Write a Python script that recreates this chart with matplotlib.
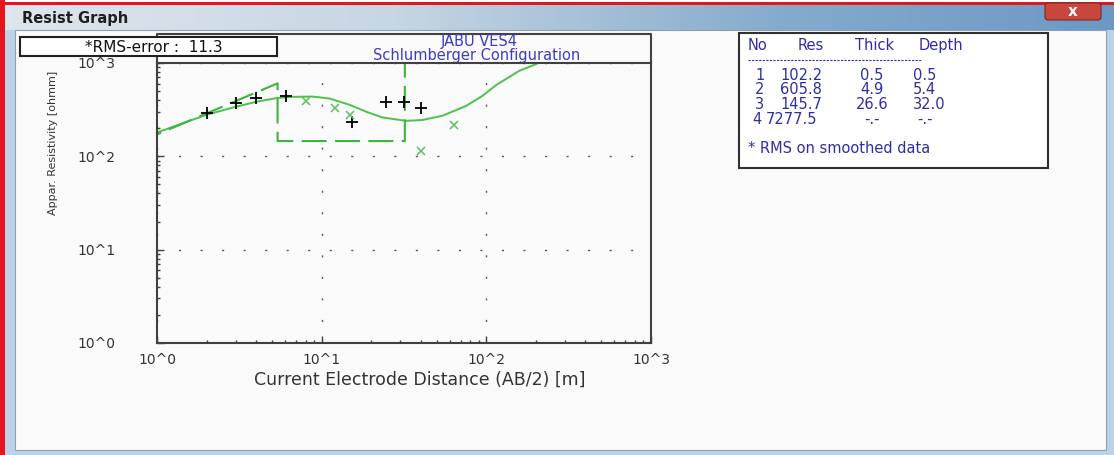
import numpy as np
import matplotlib
matplotlib.use('Agg')
import matplotlib.pyplot as plt
from matplotlib.patches import Rectangle, FancyBboxPatch
from matplotlib.ticker import LogLocator, NullFormatter

plt.rcParams['font.family'] = ['DejaVu Sans']

# field data (AB/2 [m], apparent resistivity [ohmm])
obs_ab2 = [2.0, 3.0, 4.0, 6.05, 15.3, 24.7, 31.8, 40.2]
obs_rho = [288, 371, 423, 448, 233, 383, 383, 331]

# smoothed data
smo_ab2 = [8.0, 12.0, 14.8, 40.0, 64.0]
smo_rho = [396, 331, 274, 115, 214]

# calculated model response
calc_ab2 = [1.0, 2.0, 3.0, 4.0, 5.3, 6.7, 8.8, 11.2, 14.8, 18.7, 23.4, 32.6,
            40.9, 54.1, 75.4, 94.6, 115, 158, 201, 215]
calc_rho = [180, 279, 339, 384, 420, 434, 437, 416, 356, 300, 261, 240,
            245, 272, 347, 444, 582, 822, 975, 1040]

# layer model
layer_no = [1, 2, 3, 4]
layer_res = [102.2, 605.8, 145.7, 7277.5]
layer_thick = [0.5, 4.9, 26.6]
layer_depth = [0.5, 5.4, 32.0]
rms_error = 11.3

dec = [1, 10, 100, 1000]
dec_labels = ['10^0', '10^1', '10^2', '10^3']

W, H = 1114, 455
fig = plt.figure(figsize=(W / 100, H / 100), dpi=100)

# window decoration, drawn in pixel coords
bg = fig.add_axes([0, 0, 1, 1])
bg.axis('off')
bg.add_patch(Rectangle((0, 0), W, H, fc='#bcd2e6', ec='none', zorder=0))
bg.add_patch(Rectangle((0, 0), W, 2, fc='white', ec='none', zorder=1))
bg.add_patch(Rectangle((0, 2), W, 3, fc='#e5151c', ec='none', zorder=2))
bg.add_patch(Rectangle((0, 0), 5, H, fc='#e5151c', ec='none', zorder=2))

stops = np.array([0, 0.35, 0.7, 1.0])
cols = np.array([[0.87, 0.90, 0.93], [0.78, 0.84, 0.89], [0.52, 0.67, 0.80], [0.42, 0.60, 0.77]])
t = np.linspace(0, 1, 400)
grad = np.stack([np.interp(t, stops, cols[:, k]) for k in range(3)], axis=-1)[None, :, :]
bg.imshow(grad, extent=(5, W, 30, 5), aspect='auto', zorder=1.5)
bg.text(22, 18, 'Resist Graph', fontsize=10.5, fontweight='bold', color='#1e1e1e',
        va='center', ha='left', zorder=3)
bg.add_patch(FancyBboxPatch((1045, 3), 56, 17, boxstyle='round,pad=0,rounding_size=3',
                            fc='#c8463c', ec='#7a2a25', lw=0.8, zorder=3))
bg.text(1073, 11.5, 'x', fontsize=11, fontweight='bold', color='white',
        ha='center', va='center', zorder=4)

bg.add_patch(Rectangle((15, 30), W - 23, H - 35, fc='#fafafa', ec='#8aa0b5', lw=0.8, zorder=2))

# frame above the plot (title area)
bg.plot([157, 157, 651, 651], [63, 34, 34, 63], color='#404040', lw=1.5, zorder=3)
title_col = '#3c3cc4'
bg.text(479, 46, 'JABU VES4', fontsize=10.5, color=title_col, ha='center', va='baseline', zorder=5)
bg.text(477, 60, 'Schlumberger Configuration', fontsize=10.5, color=title_col,
        ha='center', va='baseline', zorder=5)

# layer table
tcol = '#2d2da8'
fs_t = 10.5
bg.add_patch(Rectangle((739, 33), 309, 135, fc='white', ec='#303030', lw=1.5, zorder=3))
for x0, s in zip([748, 798, 855, 919], ['No', 'Res', 'Thick', 'Depth']):
    bg.text(x0, 50, s, fontsize=fs_t, color=tcol, ha='left', va='baseline', zorder=5)
bg.plot([748, 922], [60, 60], color=tcol, lw=0.8, ls=(0, (2, 1.2)), zorder=5)
row_base = [80, 94.5, 109, 124]
for i in range(len(layer_no)):
    yb = row_base[i]
    res_s = '%.1f' % layer_res[i]
    bg.text(755 if len(res_s) < 6 else 752, yb, str(layer_no[i]), fontsize=fs_t, color=tcol,
            ha='left', va='baseline', zorder=5)
    bg.text(780 if len(res_s) < 6 else 766, yb, res_s, fontsize=fs_t, color=tcol,
            ha='left', va='baseline', zorder=5)
    th = '%.1f' % layer_thick[i] if i < len(layer_thick) else '-.-'
    dp = '%.1f' % layer_depth[i] if i < len(layer_depth) else '-.-'
    bg.text(872, yb, th, fontsize=fs_t, color=tcol, ha='center', va='baseline', zorder=5)
    bg.text(913 if i < len(layer_depth) else 917, yb, dp, fontsize=fs_t, color=tcol,
            ha='left', va='baseline', zorder=5)
bg.text(748, 153, '* RMS on smoothed data', fontsize=fs_t, color=tcol, ha='left', va='baseline', zorder=5)

bg.set_xlim(0, W)
bg.set_ylim(H, 0)

# main log-log plot
ax = fig.add_axes([157 / W, 1 - 343 / H, 494 / W, 280 / H])
ax.set_facecolor('none')
ax.set_xscale('log')
ax.set_yscale('log')

# model steps from the layer table
mx = [layer_depth[0]]
my = [layer_res[0]]
for i in range(1, len(layer_depth)):
    mx += [layer_depth[i], layer_depth[i]]
    my += [layer_res[i], layer_res[i + 1]]

ax.plot(calc_ab2, calc_rho, color='#4cc24c', lw=1.4)
ax.plot(mx, my, color='#3cb43c', lw=1.5, ls=(0, (12, 4)))
ax.plot(obs_ab2, obs_rho, ls='none', marker='+', color='black', ms=8.5, mew=1.3)
ax.plot(smo_ab2, smo_rho, ls='none', marker='x', color='#5cc05c', ms=6, mew=1.1)

ax.set_xlim(1, 1000)
ax.set_ylim(1, 1000)
ax.set_xticks(dec)
ax.set_xticklabels(dec_labels)
ax.set_yticks(dec)
ax.set_yticklabels(dec_labels)
for a in (ax.xaxis, ax.yaxis):
    a.set_minor_locator(LogLocator(base=10, subs=np.arange(2, 10)))
    a.set_minor_formatter(NullFormatter())
ax.tick_params(which='both', direction='in', top=False, right=False, color='#404040',
               labelcolor='#333333', labelsize=10)
ax.tick_params(which='major', length=5, width=1)
ax.tick_params(which='minor', length=2.5, width=1)
ax.tick_params(axis='x', pad=7)
ax.tick_params(axis='y', pad=30)
ax.grid(True, which='major', color='#555555', lw=1, ls=(0, (1.5, 14)))
for s in ax.spines.values():
    s.set_color('#404040')
    s.set_linewidth(1.5)

ax.set_xlabel('Current Electrode Distance (AB/2) [m]', fontsize=12.5, color='#333333')
ax.xaxis.set_label_coords(0.532, -0.1)
ax.set_ylabel('Appar. Resistivity [ohmm]', fontsize=8, color='#333333')
ax.yaxis.set_label_coords(-0.2, 0.714)

# RMS box sits on top of everything (it hides the top of the 10^3 label)
ov = fig.add_axes([0, 0, 1, 1])
ov.axis('off')
ov.set_facecolor('none')
ov.add_patch(Rectangle((20, 37), 257, 19, fc='white', ec='#202020', lw=1.5))
ov.text(154, 47, '*RMS-error :  %.1f' % rms_error, fontsize=11, color='#111111',
        ha='center', va='center')
ov.set_xlim(0, W)
ov.set_ylim(H, 0)

fig.savefig('out.png', dpi=100)
